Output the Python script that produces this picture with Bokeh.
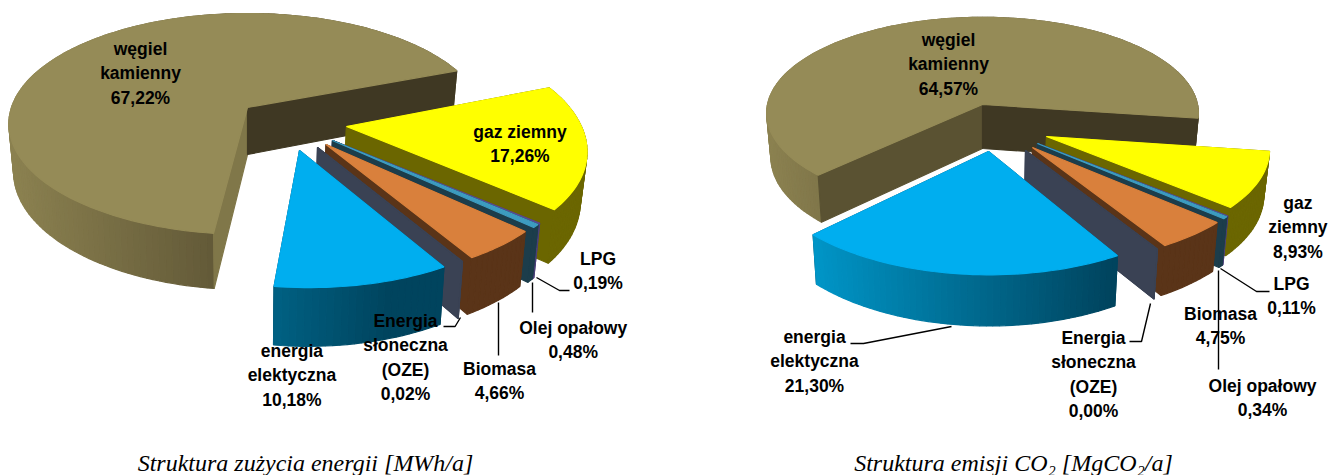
import math
from bokeh.core.properties import value
from bokeh.embed import file_html
from bokeh.models import ColumnDataSource, Range1d
from bokeh.plotting import figure
from bokeh.resources import INLINE

# ---- data ----
energy_names = ["węgiel|kamienny", "gaz ziemny", "LPG", "Olej opałowy", "Biomasa",
                "Energia|słoneczna|(OZE)", "energia|elektyczna"]
co2_names = ["węgiel|kamienny", "gaz|ziemny", "LPG", "Olej opałowy", "Biomasa",
             "Energia|słoneczna|(OZE)", "energia|elektyczna"]
energy_share = [67.22, 17.26, 0.19, 0.48, 4.66, 0.02, 10.18]
co2_share = [64.57, 8.93, 0.11, 0.34, 4.75, 0.00, 21.30]
energy_title = "Struktura zużycia energii [MWh/a]"
co2_title = "Struktura emisji CO₂ [MgCO₂/a]"

top_colors = ["#958b57", "#ffff00", "#5b4a8f", "#3d9cc0", "#d9803c", "#3a4254", "#00aeef"]
wall_colors = ["#8b8150", "#6b6600", "#4a3f78", "#1c3d4b", "#5a3418", "#3a4254", "#0096c8"]
wall_dark = ["#5c5334", "#6b6600", "#4a3f78", "#1c3d4b", "#5a3418", "#3a4254", "#00445e"]

# ---- layout only ----
W, H = 1328, 475
PIES = [
    dict(values=energy_share, names=energy_names, cx=247, cy=107, a=236, b=108, k=.149, h=47, first_end=69,
         coal_face="#807749",
         apex=[(247, 107), (346, 126), (332, 140), (332, 140), (325.5, 144), (317, 147), (299, 150)],
         radius=[1, 1, .96, .96, .95, .95, .96], squeeze=[1, .97, 1, 1, 1, 1, 1],
         labels=[(140, 48), (519.5, 131), (597.5, 258), (572.7, 327), (499, 368), (405, 320), (291.4, 350)],
         leaders=[[(536, 277), (559, 290), (569, 290)], [(532, 282), (532, 312)],
                  [(498, 302), (498, 355)], [(460, 317), (454.6, 326), (443, 326)]],
         title=(energy_title, 305)),
    dict(values=co2_share, names=co2_names, cx=982, cy=104, a=215, b=95, k=.09, h=44, first_end=98.2,
         coal_face="#5a5232",
         apex=[(982, 104), (1046, 136), (1037, 143), (1037, 143), (1032, 147), (1025, 150), (988, 151)],
         radius=[1, 1.02, 1.03, 1.03, 1.02, 1.02, 1.07], squeeze=[1, .98, 1, 1, 1, 1, .95],
         labels=[(948, 39), (1297.4, 202), (1291, 283), (1262, 385), (1220, 313), (1093, 337), (814, 336)],
         leaders=[[(1220, 268), (1256, 291), (1269, 291)], [(1218, 270), (1218, 369)],
                  [(1150, 303), (1141, 341), (1129, 341)], [(951, 326), (863, 343), (850, 343)]],
         title=(co2_title, 1013)),
]
LINE_STEP = 24.5
BOTTOM_SHRINK = .98


def lerp(c1, c2, t):
    t = max(0, min(1, t))
    a = [int(c1[i:i + 2], 16) for i in (1, 3, 5)]
    b = [int(c2[i:i + 2], 16) for i in (1, 3, 5)]
    return "#%02x%02x%02x" % tuple(round(p + (q - p) * t) for p, q in zip(a, b))


def pie_polygons(pie):
    cx, cy, a, b, k, h = (pie[n] for n in ("cx", "cy", "a", "b", "k", "h"))

    def top(u, v):
        d = 1 - k * v
        return cx + a * u / d, cy + b * v / d

    def bottom(u, v):
        x, y = top(u, v)
        return cx + (x - cx) * BOTTOM_SHRINK, y + h / (1 - k * v)

    xs, ys, cols = [], [], []

    def add(poly, col):
        xs.append([p[0] for p in poly])
        ys.append([p[1] for p in poly])
        cols.append(col)

    values = pie["values"]
    ang = pie["first_end"]
    order = list(range(1, len(values))) + [0]
    spans = {}
    for i in order:
        span = values[i] * 3.6
        spans[i] = (ang, ang + span)
        ang += span

    for i in range(len(values)):
        t0, t1 = spans[i]
        ax, ay = pie["apex"][i]
        yy = ay - cy
        v0 = yy / (b + k * yy)
        u0 = (ax - cx) / a * (1 - k * v0)
        r = pie["radius"][i]
        sq = pie["squeeze"][i]

        def rim(t):
            rad = math.radians(t)
            return u0 + r * sq * math.sin(rad), v0 - r * math.cos(rad)

        n = max(1, int((t1 - t0) / 1.5))
        angs = [t0 + (t1 - t0) * j / n for j in range(n + 1)]
        rim_pts = [rim(t) for t in angs]
        apex_uv = (u0, v0)

        def cut_walls():
            first_col = pie["coal_face"] if i == 0 else wall_dark[i]
            last_col = "#3f3823" if i == 0 else wall_dark[i]
            add([top(*apex_uv), top(*rim_pts[0]), bottom(*rim_pts[0]), bottom(*apex_uv)], first_col)
            add([top(*apex_uv), top(*rim_pts[-1]), bottom(*rim_pts[-1]), bottom(*apex_uv)], last_col)

        def outer_wall():
            for j in range(n):
                p, q = rim_pts[j], rim_pts[j + 1]
                mx = (top(*p)[0] + top(*q)[0]) / 2 - cx
                if i == 0:
                    col = lerp(wall_colors[i], wall_dark[i], (mx + a) / a)
                elif i == 6:
                    col = lerp(wall_colors[i], wall_dark[i], (mx + a * .8) / (a * 1.4))
                else:
                    col = wall_colors[i]
                add([top(*p), top(*q), bottom(*q), bottom(*p)], col)

        if i == 0:
            outer_wall()
            cut_walls()
        else:
            cut_walls()
            outer_wall()
        add([top(*apex_uv)] + [top(*p) for p in rim_pts], top_colors[i])
    return xs, ys, cols


p = figure(width=W, height=H, x_range=Range1d(0, W), y_range=Range1d(H, 0),
           output_backend="svg", toolbar_location=None, min_border=0,
           outline_line_color=None, background_fill_color="white")
p.axis.visible = False
p.grid.visible = False

LABEL_FONT = value("Liberation Sans")
for pie in PIES:
    xs, ys, cols = pie_polygons(pie)
    p.patches("xs", "ys", fill_color="cols", line_color="cols", line_width=1.2,
              source=ColumnDataSource(dict(xs=xs, ys=ys, cols=cols)))
    lx = [[q[0] for q in seg] for seg in pie["leaders"]]
    ly = [[q[1] for q in seg] for seg in pie["leaders"]]
    p.multi_line(lx, ly, line_color="#000000", line_width=1.4)
    tx, ty, tt = [], [], []
    for name, val, (x, y) in zip(pie["names"], pie["values"], pie["labels"]):
        lines = name.split("|") + [f"{val:.2f}%".replace(".", ",")]
        for j, line in enumerate(lines):
            tx.append(x)
            ty.append(y + j * LINE_STEP)
            tt.append(line)
    p.text(tx, ty, text=tt, text_font=LABEL_FONT, text_font_style="bold",
           text_font_size="17.5px", text_align="center", text_baseline="middle", text_color="#000000")
    title, tcx = pie["title"]
    p.text([tcx], [462], text=[title], text_font=value("Liberation Serif"),
           text_font_style="italic", text_font_size="24px", text_align="center",
           text_baseline="middle", text_color="#000000")

open("out.html", "w").write(file_html(p, INLINE))
